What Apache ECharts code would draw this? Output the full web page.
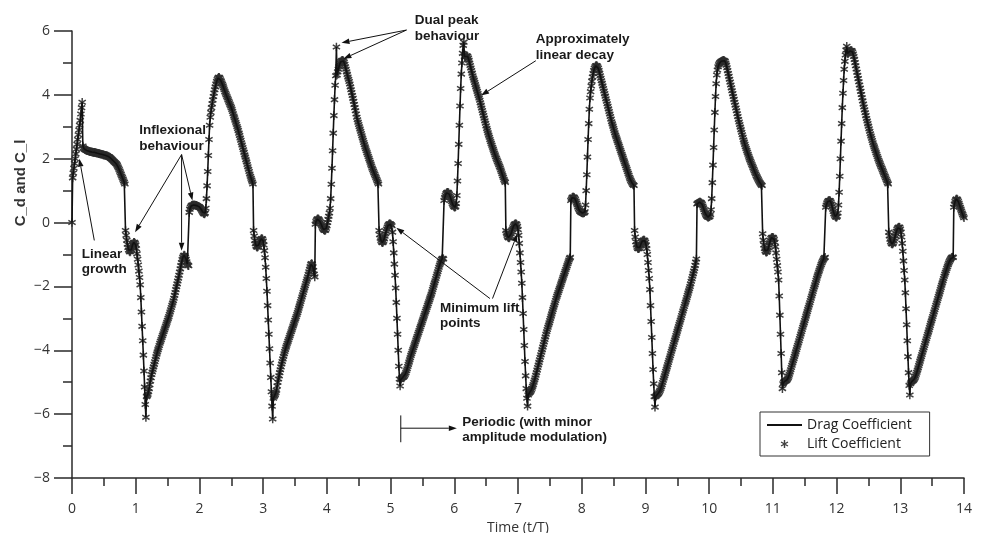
<!DOCTYPE html>
<html>
<head>
<meta charset="utf-8">
<script src="https://cdn.jsdelivr.net/npm/echarts@6/dist/echarts.min.js"></script>
<style>
  html, body { margin: 0; padding: 0; background: #ffffff; }
  #chart { width: 983px; height: 533px; }
</style>
</head>
<body>
<div id="chart"></div>
<script>
// ---------------- DATA ----------------
// Coefficient values sampled every 0.01 t/T; one array per unit of time.
const sampleStep = 0.01;
const span0to1 = [
  0, 1.4, 1.55, 1.7, 1.85, 2.0, 2.15, 2.3, 2.45, 2.6,
  2.75, 2.9, 3.05, 3.2, 3.4, 3.6, 3.77, 2.4, 2.34, 2.31,
  2.29, 2.28, 2.27, 2.26, 2.25, 2.25, 2.24, 2.23, 2.23, 2.22,
  2.22, 2.21, 2.21, 2.2, 2.2, 2.2, 2.19, 2.19, 2.18, 2.18,
  2.17, 2.17, 2.16, 2.16, 2.15, 2.15, 2.14, 2.14, 2.13, 2.12,
  2.12, 2.11, 2.11, 2.1, 2.1, 2.09, 2.08, 2.07, 2.06, 2.05,
  2.03, 2.01, 1.99, 1.97, 1.95, 1.93, 1.91, 1.89, 1.87, 1.85,
  1.83, 1.79, 1.75, 1.71, 1.66, 1.61, 1.56, 1.51, 1.46, 1.41,
  1.36, 1.31, 1.26, 1.21, -0.25, -0.4, -0.55, -0.68, -0.78, -0.86,
  -0.9, -0.92, -0.9, -0.85, -0.78, -0.7, -0.65, -0.62, -0.62, -0.65
];
const span1to2 = [
  -0.7, -0.82, -0.98, -1.15, -1.33, -1.52, -1.72, -1.95, -2.35, -2.8,
  -3.25, -3.7, -4.15, -4.65, -5.15, -5.7, -6.1, -5.45, -5.42, -5.38,
  -5.3, -5.2, -5.08, -4.96, -4.86, -4.76, -4.68, -4.6, -4.52, -4.44,
  -4.36, -4.28, -4.2, -4.12, -4.05, -3.98, -3.92, -3.85, -3.78, -3.72,
  -3.66, -3.6, -3.54, -3.48, -3.42, -3.36, -3.3, -3.24, -3.18, -3.12,
  -3.06, -3.0, -2.94, -2.87, -2.8, -2.73, -2.66, -2.59, -2.52, -2.45,
  -2.37, -2.28, -2.19, -2.1, -2.01, -1.92, -1.83, -1.74, -1.65, -1.55,
  -1.45, -1.35, -1.25, -1.16, -1.09, -1.04, -1.02, -1.03, -1.08, -1.15,
  -1.23, -1.3, -1.34, -1.35, 0.32, 0.42, 0.48, 0.52, 0.54, 0.55,
  0.55, 0.55, 0.55, 0.55, 0.54, 0.54, 0.53, 0.52, 0.51, 0.5
];
const span2to3 = [
  0.49, 0.47, 0.44, 0.41, 0.37, 0.33, 0.3, 0.28, 0.27, 0.3,
  0.45, 0.75, 1.15, 1.6, 2.1, 2.6, 3.05, 3.3, 3.45, 3.6,
  3.72, 3.84, 3.95, 4.06, 4.16, 4.25, 4.34, 4.42, 4.48, 4.52,
  4.55, 4.55, 4.52, 4.47, 4.43, 4.38, 4.33, 4.28, 4.22, 4.16,
  4.1, 4.05, 4.0, 3.95, 3.9, 3.85, 3.8, 3.75, 3.7, 3.65,
  3.6, 3.54, 3.48, 3.41, 3.34, 3.28, 3.21, 3.14, 3.08, 3.01,
  2.95, 2.88, 2.8, 2.73, 2.65, 2.58, 2.5, 2.43, 2.35, 2.28,
  2.2, 2.12, 2.05, 1.97, 1.9, 1.82, 1.75, 1.67, 1.6, 1.52,
  1.45, 1.39, 1.33, 1.27, 1.21, -0.25, -0.42, -0.56, -0.66, -0.73,
  -0.76, -0.77, -0.75, -0.7, -0.64, -0.58, -0.54, -0.51, -0.5, -0.52
];
const span3to4 = [
  -0.58, -0.7, -0.88, -1.1, -1.4, -1.75, -2.15, -2.6, -3.05, -3.5,
  -3.95, -4.4, -4.85, -5.3, -5.75, -6.15, -5.5, -5.45, -5.42, -5.38,
  -5.32, -5.25, -5.12, -5.0, -4.9, -4.8, -4.7, -4.61, -4.52, -4.43,
  -4.35, -4.27, -4.19, -4.11, -4.04, -3.97, -3.9, -3.84, -3.78, -3.72,
  -3.66, -3.6, -3.54, -3.48, -3.42, -3.36, -3.3, -3.24, -3.18, -3.12,
  -3.06, -3.0, -2.94, -2.88, -2.82, -2.75, -2.68, -2.61, -2.54, -2.47,
  -2.4, -2.33, -2.26, -2.19, -2.12, -2.05, -1.98, -1.91, -1.84, -1.77,
  -1.7, -1.62, -1.54, -1.46, -1.38, -1.31, -1.28, -1.3, -1.38, -1.5,
  -1.62, -1.7, -0.05, 0.03, 0.08, 0.11, 0.12, 0.11, 0.08, 0.04,
  0.0, -0.05, -0.1, -0.15, -0.19, -0.22, -0.24, -0.25, -0.23, -0.18
];
const span4to5 = [
  -0.1, 0.0, 0.1, 0.2, 0.3, 0.45, 0.75, 1.2, 1.7, 2.25,
  2.8, 3.35, 3.85, 4.3, 4.6, 5.5, 4.62, 4.72, 4.8, 4.88,
  4.95, 5.0, 5.04, 5.07, 5.08, 5.08, 5.06, 5.02, 4.96, 4.88,
  4.8, 4.72, 4.64, 4.56, 4.49, 4.42, 4.34, 4.25, 4.16, 4.07,
  3.98, 3.89, 3.8, 3.7, 3.6, 3.5, 3.4, 3.3, 3.22, 3.14,
  3.07, 3.0, 2.93, 2.86, 2.79, 2.72, 2.65, 2.58, 2.51, 2.44,
  2.37, 2.31, 2.25, 2.19, 2.13, 2.07, 2.01, 1.95, 1.89, 1.83,
  1.77, 1.71, 1.66, 1.61, 1.56, 1.51, 1.46, 1.41, 1.36, 1.31,
  1.26, 1.21, -0.25, -0.38, -0.49, -0.56, -0.61, -0.63, -0.62, -0.58,
  -0.51, -0.43, -0.35, -0.27, -0.2, -0.14, -0.09, -0.06, -0.04, -0.04
];
const span5to6 = [
  -0.05, -0.07, -0.1, -0.3, -0.6, -0.95, -1.3, -1.65, -2.05, -2.5,
  -3.0, -3.5, -4.0, -4.5, -4.9, -5.12, -4.92, -4.88, -4.86, -4.85,
  -4.84, -4.82, -4.79, -4.75, -4.7, -4.64, -4.58, -4.51, -4.44, -4.37,
  -4.3, -4.23, -4.16, -4.1, -4.04, -3.98, -3.92, -3.86, -3.8, -3.74,
  -3.68, -3.62, -3.56, -3.5, -3.44, -3.38, -3.32, -3.26, -3.2, -3.14,
  -3.08, -3.02, -2.96, -2.9, -2.84, -2.78, -2.72, -2.66, -2.6, -2.54,
  -2.48, -2.42, -2.36, -2.3, -2.24, -2.17, -2.1, -2.03, -1.96, -1.89,
  -1.82, -1.75, -1.68, -1.61, -1.54, -1.47, -1.4, -1.33, -1.27, -1.21,
  -1.16, -1.13, -1.12, -1.14, 0.69, 0.78, 0.85, 0.9, 0.93, 0.95,
  0.95, 0.93, 0.89, 0.84, 0.78, 0.72, 0.66, 0.6, 0.55, 0.51
];
const span6to7 = [
  0.49, 0.48, 0.5, 0.6, 0.85, 1.3, 1.85, 2.45, 3.05, 3.65,
  4.2, 4.65, 5.0, 5.3, 5.55, 5.65, 5.2, 5.18, 5.2, 5.22,
  5.22, 5.2, 5.15, 5.08, 5.0, 4.92, 4.84, 4.76, 4.68, 4.6,
  4.53, 4.46, 4.39, 4.32, 4.25, 4.18, 4.11, 4.04, 3.97, 3.9,
  3.83, 3.75, 3.67, 3.59, 3.51, 3.43, 3.35, 3.27, 3.19, 3.11,
  3.03, 2.95, 2.88, 2.81, 2.74, 2.67, 2.6, 2.54, 2.48, 2.42,
  2.36, 2.3, 2.24, 2.18, 2.12, 2.06, 2.01, 1.96, 1.91, 1.86,
  1.81, 1.76, 1.71, 1.65, 1.59, 1.53, 1.47, 1.41, 1.35, 1.3,
  1.26, -0.25, -0.33, -0.4, -0.45, -0.47, -0.48, -0.46, -0.42, -0.36,
  -0.29, -0.22, -0.16, -0.11, -0.07, -0.05, -0.04, -0.04, -0.06, -0.12
];
const span7to8 = [
  -0.22, -0.4, -0.65, -0.95, -1.25, -1.55, -1.9, -2.35, -2.85, -3.35,
  -3.85, -4.35, -4.8, -5.2, -5.5, -5.75, -5.4, -5.35, -5.33, -5.31,
  -5.28, -5.24, -5.19, -5.13, -5.07, -5.0, -4.93, -4.86, -4.78, -4.7,
  -4.62, -4.54, -4.46, -4.38, -4.3, -4.22, -4.14, -4.06, -3.98, -3.9,
  -3.82, -3.74, -3.66, -3.58, -3.5, -3.42, -3.35, -3.28, -3.21, -3.14,
  -3.07, -3.0, -2.93, -2.86, -2.79, -2.72, -2.65, -2.58, -2.51, -2.44,
  -2.37, -2.31, -2.25, -2.19, -2.13, -2.07, -2.01, -1.95, -1.89, -1.83,
  -1.77, -1.71, -1.65, -1.59, -1.53, -1.47, -1.41, -1.35, -1.29, -1.23,
  -1.17, -1.12, -1.09, 0.69, 0.74, 0.78, 0.8, 0.8, 0.79, 0.76,
  0.72, 0.67, 0.61, 0.55, 0.49, 0.44, 0.4, 0.36, 0.34, 0.32
];
const span8to9 = [
  0.31, 0.3, 0.3, 0.3, 0.31, 0.34, 0.55, 1.0, 1.5, 2.05,
  2.6, 3.1, 3.55, 3.9, 4.1, 4.28, 4.43, 4.56, 4.67, 4.76,
  4.83, 4.88, 4.91, 4.92, 4.91, 4.88, 4.83, 4.76, 4.68, 4.6,
  4.52, 4.44, 4.36, 4.28, 4.2, 4.12, 4.04, 3.96, 3.88, 3.8,
  3.72, 3.64, 3.56, 3.48, 3.4, 3.32, 3.24, 3.16, 3.09, 3.02,
  2.95, 2.88, 2.81, 2.74, 2.68, 2.62, 2.56, 2.5, 2.44, 2.38,
  2.32, 2.26, 2.2, 2.14, 2.08, 2.02, 1.96, 1.9, 1.84, 1.78,
  1.72, 1.66, 1.6, 1.54, 1.48, 1.42, 1.37, 1.32, 1.28, 1.24,
  1.2, 1.18, 1.16, -0.25, -0.45, -0.6, -0.7, -0.77, -0.81, -0.82,
  -0.81, -0.78, -0.73, -0.67, -0.62, -0.58, -0.56, -0.55, -0.55, -0.57
];
const span9to10 = [
  -0.62, -0.7, -0.82, -1.0, -1.25, -1.5, -1.75, -2.1, -2.6, -3.1,
  -3.6, -4.1, -4.6, -5.05, -5.45, -5.78, -5.45, -5.42, -5.4, -5.38,
  -5.36, -5.33, -5.29, -5.25, -5.2, -5.14, -5.08, -5.01, -4.94, -4.87,
  -4.8, -4.73, -4.66, -4.59, -4.52, -4.45, -4.38, -4.31, -4.24, -4.17,
  -4.1, -4.03, -3.96, -3.89, -3.82, -3.75, -3.68, -3.61, -3.54, -3.47,
  -3.4, -3.33, -3.26, -3.19, -3.12, -3.05, -2.98, -2.91, -2.84, -2.77,
  -2.7, -2.63, -2.56, -2.49, -2.42, -2.35, -2.28, -2.21, -2.14, -2.07,
  -2.0, -1.92, -1.84, -1.76, -1.68, -1.6, -1.52, -1.44, -1.34, -1.24,
  -1.14, 0.58, 0.6, 0.62, 0.63, 0.64, 0.64, 0.63, 0.61, 0.57,
  0.52, 0.46, 0.4, 0.34, 0.29, 0.25, 0.21, 0.19, 0.17, 0.17
];
const span10to11 = [
  0.18, 0.19, 0.25, 0.4, 0.75, 1.25, 1.8, 2.35, 2.9, 3.45,
  3.95, 4.35, 4.62, 4.78, 4.88, 4.94, 4.98, 5.01, 5.03, 5.05,
  5.06, 5.07, 5.08, 5.08, 5.07, 5.05, 5.0, 4.93, 4.85, 4.76,
  4.67, 4.58, 4.49, 4.4, 4.31, 4.22, 4.13, 4.04, 3.95, 3.86,
  3.77, 3.68, 3.59, 3.5, 3.41, 3.32, 3.23, 3.15, 3.07, 2.99,
  2.91, 2.83, 2.75, 2.67, 2.59, 2.52, 2.45, 2.38, 2.32, 2.26,
  2.2, 2.14, 2.08, 2.02, 1.97, 1.92, 1.87, 1.82, 1.77, 1.72,
  1.67, 1.62, 1.57, 1.52, 1.47, 1.43, 1.39, 1.35, 1.31, 1.27,
  1.24, 1.21, 1.18, 1.16, -0.35, -0.55, -0.7, -0.81, -0.88, -0.92,
  -0.93, -0.91, -0.86, -0.79, -0.71, -0.63, -0.56, -0.5, -0.47, -0.46
];
const span11to12 = [
  -0.46, -0.48, -0.53, -0.62, -0.76, -0.95, -1.15, -1.35, -1.55, -1.8,
  -2.3, -2.9, -3.5, -4.1, -4.7, -5.2, -5.05, -5.0, -4.98, -4.97,
  -4.96, -4.95, -4.93, -4.9, -4.86, -4.81, -4.75, -4.68, -4.61, -4.54,
  -4.47, -4.4, -4.33, -4.26, -4.19, -4.12, -4.05, -3.98, -3.91, -3.84,
  -3.77, -3.7, -3.63, -3.56, -3.49, -3.42, -3.35, -3.28, -3.21, -3.14,
  -3.07, -3.0, -2.93, -2.86, -2.79, -2.72, -2.65, -2.58, -2.51, -2.44,
  -2.37, -2.3, -2.23, -2.16, -2.09, -2.02, -1.95, -1.88, -1.81, -1.74,
  -1.67, -1.61, -1.55, -1.49, -1.43, -1.37, -1.31, -1.26, -1.21, -1.17,
  -1.13, -1.1, -1.09, 0.48, 0.55, 0.61, 0.65, 0.68, 0.69, 0.69,
  0.68, 0.64, 0.58, 0.5, 0.42, 0.35, 0.28, 0.23, 0.19, 0.17
];
const span12to13 = [
  0.17, 0.2, 0.3, 0.55, 0.95, 1.45, 2.0, 2.55, 3.1, 3.6,
  4.05, 4.45, 4.8, 5.05, 5.25, 5.4, 5.52, 5.3, 5.3, 5.32,
  5.35, 5.37, 5.39, 5.39, 5.38, 5.34, 5.28, 5.2, 5.11, 5.01,
  4.91, 4.81, 4.71, 4.61, 4.51, 4.41, 4.31, 4.21, 4.11, 4.01,
  3.91, 3.81, 3.71, 3.62, 3.53, 3.44, 3.35, 3.26, 3.18, 3.1,
  3.02, 2.94, 2.86, 2.78, 2.71, 2.64, 2.57, 2.5, 2.43, 2.37,
  2.31, 2.25, 2.19, 2.13, 2.07, 2.01, 1.95, 1.9, 1.85, 1.8,
  1.75, 1.7, 1.65, 1.6, 1.55, 1.5, 1.45, 1.4, 1.35, 1.3,
  1.25, 1.21, -0.3, -0.42, -0.52, -0.6, -0.65, -0.67, -0.67, -0.64,
  -0.58, -0.5, -0.42, -0.34, -0.27, -0.21, -0.17, -0.15, -0.14, -0.15
];
const span13to14 = [
  -0.2, -0.3, -0.45, -0.65, -0.9, -1.2, -1.5, -1.8, -2.2, -2.7,
  -3.2, -3.7, -4.2, -4.7, -5.1, -5.4, -5.05, -5.0, -4.98, -4.96,
  -4.95, -4.93, -4.9, -4.86, -4.81, -4.75, -4.69, -4.62, -4.55, -4.48,
  -4.41, -4.34, -4.27, -4.2, -4.13, -4.06, -3.99, -3.92, -3.85, -3.78,
  -3.71, -3.64, -3.57, -3.5, -3.43, -3.36, -3.29, -3.22, -3.15, -3.08,
  -3.01, -2.94, -2.87, -2.8, -2.73, -2.66, -2.59, -2.52, -2.45, -2.38,
  -2.31, -2.24, -2.17, -2.1, -2.03, -1.96, -1.89, -1.82, -1.75, -1.68,
  -1.62, -1.56, -1.5, -1.44, -1.38, -1.32, -1.27, -1.22, -1.18, -1.14,
  -1.11, -1.09, -1.08, -1.09, 0.48, 0.58, 0.66, 0.71, 0.74, 0.74,
  0.71, 0.66, 0.6, 0.54, 0.48, 0.42, 0.36, 0.3, 0.25, 0.2,
  0.15
];
const xTicks = [0, 14, 1];      // min, max, interval
const yTicks = [-8, 6, 2];
const seriesNames = ['Drag Coefficient', 'Lift Coefficient'];
const xAxisTitle = 'Time (t/T)';
const yAxisTitle = 'C_d and C_l';

// ---------------- BUILD ----------------
const spans = [span0to1, span1to2, span2to3, span3to4, span4to5, span5to6, span6to7,
  span7to8, span8to9, span9to10, span10to11, span11to12, span12to13, span13to14];
const dragCoefficient = [];
spans.forEach((vals, k) => vals.forEach((v, i) => {
  dragCoefficient.push([+(k + i * sampleStep).toFixed(2), v]);
}));
// In the reference the lift markers sit exactly on the drag trace.
const liftCoefficient = dragCoefficient;

const starBody = 'M-0.7,-4 L0.7,-4 L0.7,4 L-0.7,4 Z M3.114,2.606 L-3.814,-1.394 L-3.114,-2.606 L3.814,1.394 Z M3.814,-1.394 L-3.114,2.606 L-3.814,1.394 L3.114,-2.606 Z';
const starPath = 'path://' + starBody;
const starLegendPath = 'path://M-7,-7 M7,7 ' + starBody;
const lineLegendPath = 'path://M0,0 L35,0 L35,2 L0,2 Z';

const axisColor = '#2a2a2a';
const tickFont = { fontFamily: 'Open Sans', fontSize: 14, color: '#333' };
const minusFmt = v => String(v).replace('-', '\u2212');

const chart = echarts.init(document.getElementById('chart'), null, { renderer: 'canvas' });
const option = {
  backgroundColor: '#ffffff',
  animation: false,
  grid: { left: 72, top: 31, width: 892, height: 447, containLabel: false, outerBoundsMode: 'none' },
  legend: {
    orient: 'vertical', left: 760, top: 412,
    itemWidth: 35, itemHeight: 14, itemGap: 5,
    padding: [6, 18, 5, 7],
    borderColor: '#333', borderWidth: 1,
    textStyle: { fontFamily: 'Open Sans', fontSize: 14, color: '#222' },
    data: [
      { name: seriesNames[0], icon: lineLegendPath },
      { name: seriesNames[1], icon: starLegendPath }
    ]
  },
  xAxis: {
    type: 'value', min: xTicks[0], max: xTicks[1], interval: xTicks[2],
    name: xAxisTitle, nameLocation: 'middle', nameGap: 41,
    nameTextStyle: { fontFamily: 'Open Sans', fontSize: 14, color: '#333' },
    axisLine: { show: true, onZero: false, lineStyle: { color: axisColor, width: 1.5 } },
    axisTick: { show: true, inside: false, length: 16, lineStyle: { color: axisColor, width: 1.5 } },
    minorTick: { show: true, splitNumber: 2, length: 8, lineStyle: { color: axisColor, width: 1.5 } },
    axisLabel: { margin: 24, ...tickFont, formatter: minusFmt },
    splitLine: { show: false }
  },
  yAxis: {
    type: 'value', min: yTicks[0], max: yTicks[1], interval: yTicks[2],
    axisLine: { show: true, onZero: false, lineStyle: { color: axisColor, width: 1.5 } },
    axisTick: { show: true, inside: false, length: 18, lineStyle: { color: axisColor, width: 1.5 } },
    minorTick: { show: true, splitNumber: 2, length: 9, lineStyle: { color: axisColor, width: 1.5 } },
    axisLabel: { margin: 22, ...tickFont, formatter: minusFmt },
    splitLine: { show: false }
  },
  series: [
    {
      name: seriesNames[1], type: 'scatter', data: liftCoefficient,
      symbol: starPath, symbolSize: [8, 8.6],
      itemStyle: { color: '#2b2b2b', opacity: 0.9 },
      z: 2
    },
    {
      name: seriesNames[0], type: 'line', data: dragCoefficient,
      showSymbol: false, symbol: 'none',
      lineStyle: { color: '#111111', width: 1.6 },
      itemStyle: { color: '#111111' },
      z: 3
    }
  ]
};
chart.setOption(option);

// ---------------- ANNOTATIONS (anchored in data coordinates) ----------------
const annotationTexts = [
  { text: 'Dual peak\nbehaviour', at: [5.38, 6.57] },
  { text: 'Approximately\nlinear decay', at: [7.28, 5.97] },
  { text: 'Inflexional\nbehaviour', at: [1.056, 3.12] },
  { text: 'Linear\ngrowth', at: [0.152, -0.74] },
  { text: 'Minimum lift\npoints', at: [5.776, -2.44] },
  { text: 'Periodic (with minor\namplitude modulation)', at: [6.126, -6.01] }
];
const annotationArrows = [
  [[5.25, 6.03], [4.23, 5.63]],
  [[5.25, 6.03], [4.26, 5.13]],
  [[7.28, 5.07], [6.42, 3.98]],
  [[1.72, 2.13], [0.99, -0.30]],
  [[1.72, 2.13], [1.72, -0.88]],
  [[1.72, 2.13], [1.89, 0.69]],
  [[0.35, -0.56], [0.115, 2.0]],
  [[6.56, -2.38], [5.09, -0.16]],
  [[6.60, -2.38], [6.99, -0.35]],
  [[5.16, -6.44], [6.04, -6.44]]
];
const annotationBars = [
  [[5.16, -6.04], [5.16, -6.88]]
];

const toPx = p => chart.convertToPixel({ xAxisIndex: 0, yAxisIndex: 0 }, p);
const graphics = [];
annotationTexts.forEach(a => {
  const p = toPx(a.at);
  graphics.push({
    type: 'text', x: p[0], y: p[1], z: 100, silent: true,
    style: {
      text: a.text, fill: '#1a1a1a',
      font: 'bold 13.5px "Liberation Sans", Arial, sans-serif',
      lineHeight: 15.5, align: 'left', verticalAlign: 'top'
    }
  });
});
annotationArrows.forEach(([from, to]) => {
  const a = toPx(from), b = toPx(to);
  const dx = b[0] - a[0], dy = b[1] - a[1], L = Math.hypot(dx, dy);
  const ux = dx / L, uy = dy / L, hl = 8, hw = 2.8;
  const bx = b[0] - ux * hl, by = b[1] - uy * hl;
  graphics.push({ type: 'line', z: 100, silent: true,
    shape: { x1: a[0], y1: a[1], x2: bx, y2: by },
    style: { stroke: '#111', lineWidth: 1 } });
  graphics.push({ type: 'polygon', z: 100, silent: true,
    shape: { points: [[b[0], b[1]], [bx - uy * hw, by + ux * hw], [bx + uy * hw, by - ux * hw]] },
    style: { fill: '#111' } });
});
annotationBars.forEach(([from, to]) => {
  const a = toPx(from), b = toPx(to);
  graphics.push({ type: 'line', z: 100, silent: true,
    shape: { x1: a[0], y1: a[1], x2: b[0], y2: b[1] },
    style: { stroke: '#111', lineWidth: 1 } });
});
// y-axis title (rotated, bold)
graphics.push({
  type: 'text', x: 21, y: 183, rotation: Math.PI / 2, z: 100, silent: true,
  style: {
    text: yAxisTitle, fill: '#333',
    font: 'bold 15px "Liberation Sans", Arial, sans-serif',
    align: 'center', verticalAlign: 'middle'
  }
});
chart.setOption({ graphic: graphics });
</script>
</body>
</html>
